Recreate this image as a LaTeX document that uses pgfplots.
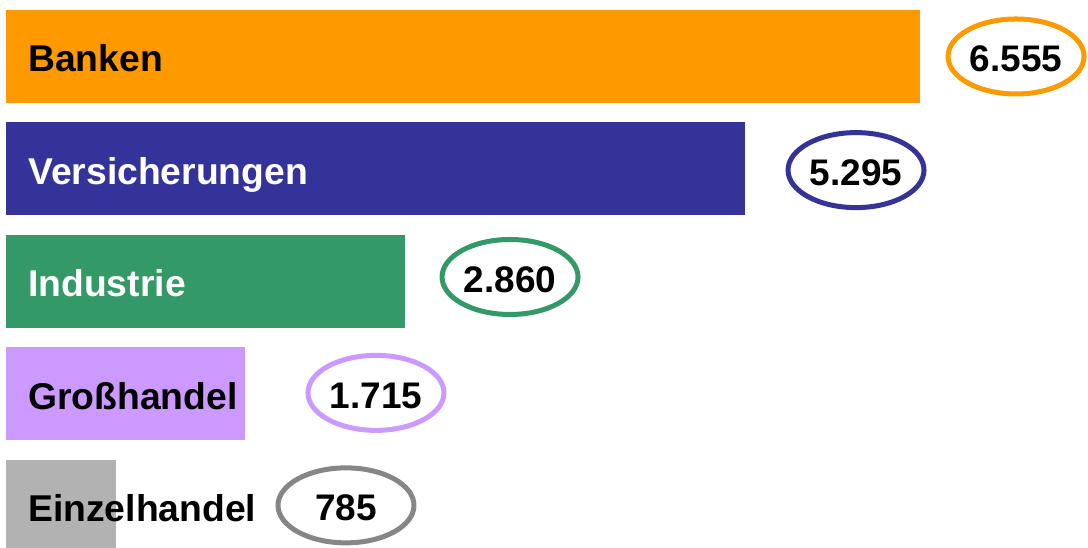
\documentclass[border=0pt]{standalone}
\usepackage{pgfplots}
\pgfplotsset{compat=1.18}
\usetikzlibrary{shapes.geometric}
\usepackage{fontspec}
\setmainfont{Liberation Sans}
\definecolor{cBank}{HTML}{FF9900}
\definecolor{cVers}{HTML}{333399}
\definecolor{cInd}{HTML}{339966}
\definecolor{cGross}{HTML}{CC99FF}
\definecolor{cEinz}{HTML}{B2B2B2}
\definecolor{cEinzE}{HTML}{868686}
\begin{document}
\begin{tikzpicture}
\path[use as bounding box] (0,0) rectangle (1088bp,548bp);
\begin{axis}[
  at={(0,0)}, anchor=south west,
  width=1088bp, height=548bp, scale only axis,
  xmin=-43, xmax=7756, ymin=-0.502, ymax=4.369, y dir=reverse,
  hide axis, clip=true,
  lab/.style={draw=none, mark=none, point meta=explicit symbolic, nodes near coords,
    every node near coord/.style={anchor=west, inner sep=0pt, text height=27bp, text depth=0pt, yshift=-2bp,
      font=\fontsize{37.3bp}{44bp}\selectfont\bfseries, text=#1}},
  val/.style={draw=none, mark=none, point meta=explicit symbolic, nodes near coords,
    every node near coord/.style={anchor=center, ellipse, draw=#1, line width=5bp, fill=white,
      minimum width=136bp, minimum height=75bp, inner sep=0pt, text height=31bp, text depth=0pt,
      font=\fontsize{37bp}{44bp}\selectfont\bfseries, text=black}},
  bars/.style={xbar, bar width=93bp, bar shift=0pt, draw=none, fill=#1},
]
% bars
\addplot[bars=cBank]  coordinates {(6555,0)};
\addplot[bars=cVers]  coordinates {(5295,1)};
\addplot[bars=cInd]   coordinates {(2860,2)};
\addplot[bars=cGross] coordinates {(1715,3)};
\addplot[bars=cEinz]  coordinates {(785,4)};
% category labels
\addplot[lab=black] coordinates {(158,0)[Banken] (158,3)[Großhandel] (158,4)[Einzelhandel]};
\addplot[lab=white] coordinates {(158,1)[Versicherungen] (158,2)[Industrie]};
% value ellipses
\addplot[val=cBank]  coordinates {(7240,0)[6.555]};
\addplot[val=cVers]  coordinates {(6093,1.01)[5.295]};
\addplot[val=cInd]   coordinates {(3613,1.96)[2.860]};
\addplot[val=cGross] coordinates {(2652,2.99)[1.715]};
\addplot[val=cEinzE] coordinates {(2437,3.99)[785]};
\end{axis}
\end{tikzpicture}
\end{document}
